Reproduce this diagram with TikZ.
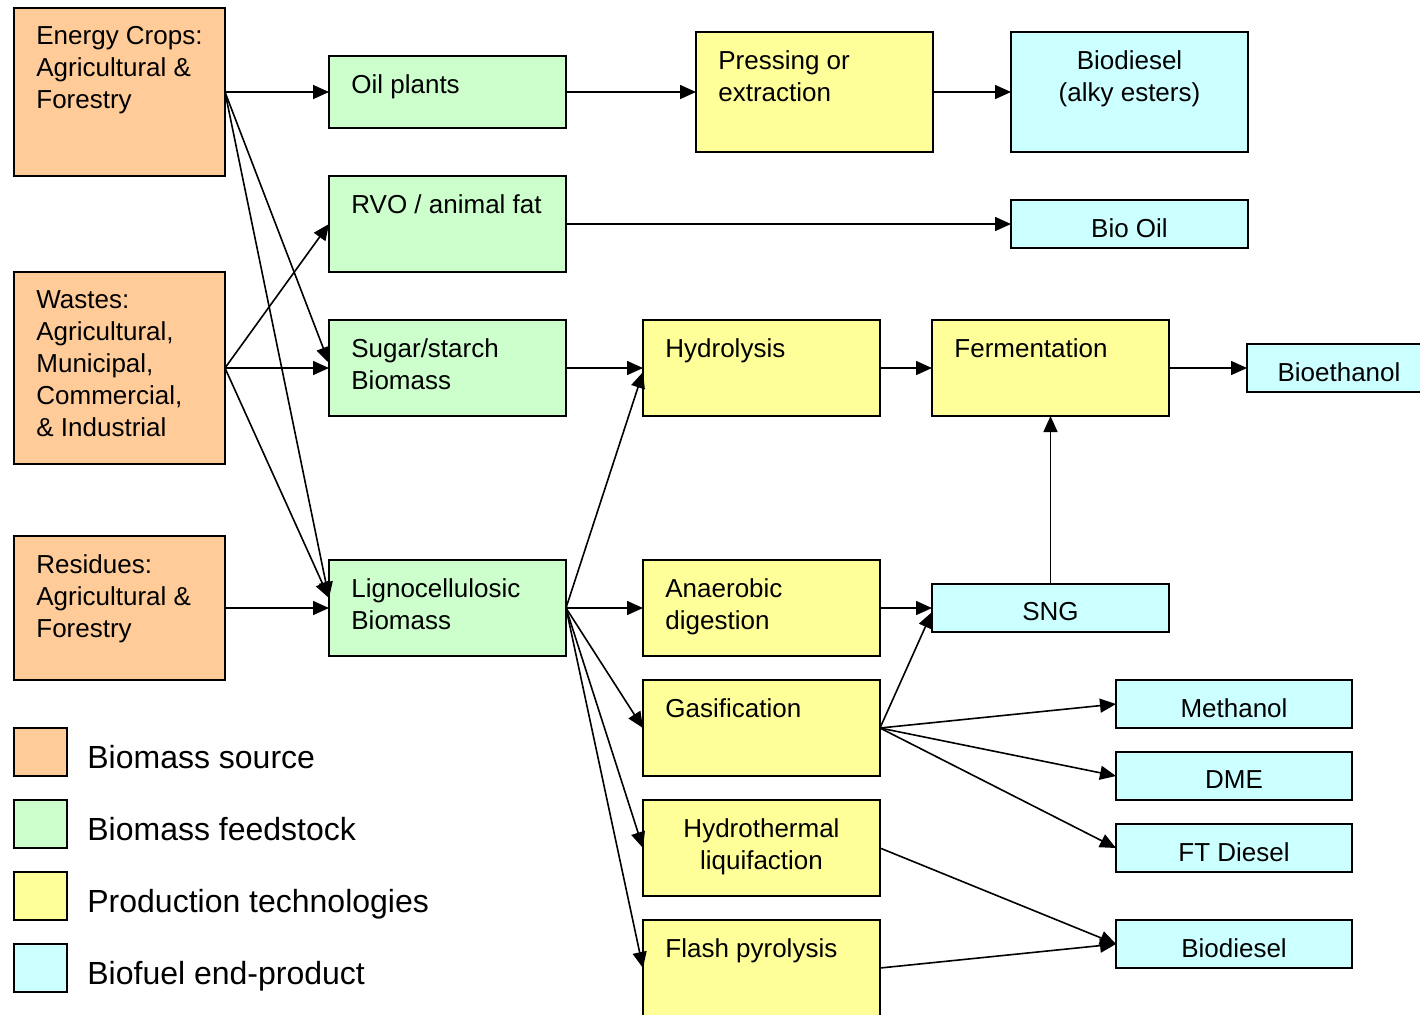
\documentclass[tikz,border=0pt]{standalone}
\usepackage{fontspec}
\setmainfont{Liberation Sans}
\usepackage{tikz}
\usetikzlibrary {arrows.meta,
                 positioning}
\definecolor{srcorange}{HTML}{FFCC99}
\definecolor{feedgreen}{HTML}{CCFFCC}
\definecolor{techyellow}{HTML}{FFFF99}
\definecolor{fuelcyan}{HTML}{CCFFFF}
\tikzset{
        box/.style={draw, rectangle, line width=1pt, inner sep=0pt,
                    outer sep=0pt, anchor=north west,
                    minimum width=118.5pt, minimum height=48pt},
        source/.style={box, fill=srcorange, minimum width=105.5pt},
        feed/.style={box, fill=feedgreen},
        tech/.style={box, fill=techyellow},
        fuel/.style={box, fill=fuelcyan, minimum height=24pt},
        txt/.style={label={[anchor=north west, align=left, inner sep=0pt,
                    xshift=11pt, yshift=-9pt]north west:{#1}}},
        ctxt/.style={label={[anchor=north, align=center, inner sep=0pt,
                    yshift=-9pt]north:{#1}}},
        keybox/.style={box, minimum width=26.5pt, minimum height=24pt},
        keytxt/.style={inner sep=0pt, anchor=base west, yshift=4pt,
                       font=\fontsize{16}{19}\selectfont},
        myarrow/.style={-{Triangle[length=8pt, width=7pt]}, line width=0.8pt},
 }

\begin{document}
\begin{tikzpicture}[x=0.5pt, y=-0.5pt,
                    every node/.style={font=\fontsize{13}{16}\selectfont}]
    \useasboundingbox (0,0) rectangle (1420,1014);

    % biomass sources
    \node[source, minimum height=84pt,
          txt={Energy Crops:\\Agricultural \&\\Forestry}] (crops) at (14,8) {};
    \node[source, minimum height=96pt, below=48pt of crops,
          txt={Wastes:\\Agricultural,\\Municipal,\\Commercial,\\\& Industrial}] (wastes) {};
    \node[source, minimum height=72pt, below=36pt of wastes,
          txt={Residues:\\Agricultural \&\\Forestry}] (residues) {};

    % feedstocks
    \node[feed, minimum height=36pt, txt={Oil plants}] (oil) at (329,56) {};
    \node[feed, below=24pt of oil, txt={RVO / animal fat}] (rvo) {};
    \node[feed, below=24pt of rvo, txt={Sugar/starch\\Biomass}] (sugar) {};
    \node[feed, below=72pt of sugar, txt={Lignocellulosic\\Biomass}] (ligno) {};

    % technologies
    \node[tech, minimum height=60pt, right=65pt of oil,
          txt={Pressing or\\extraction}] (press) {};
    \node[tech, right=38.5pt of sugar, txt={Hydrolysis}] (hydro) {};
    \node[tech, right=26pt of hydro, txt={Fermentation}] (ferm) {};
    \node[tech, right=38.5pt of ligno, txt={Anaerobic\\digestion}] (anaer) {};
    \node[tech, below=12pt of anaer, txt={Gasification}] (gasif) {};
    \node[tech, below=12pt of gasif, ctxt={Hydrothermal\\liquifaction}] (hydroth) {};
    \node[tech, below=12pt of hydroth, txt={Flash pyrolysis}] (flash) {};

    % end products
    \node[fuel, minimum height=60pt, right=39pt of press,
          ctxt={Biodiesel\\(alky esters)}] (alky) {};
    \node[fuel, below=24pt of alky, ctxt={Bio Oil}] (biooil) {};
    \node[fuel, minimum width=92pt, right=39pt of ferm, ctxt={Bioethanol}] (ethanol) {};
    \node[fuel, below=84pt of ferm, ctxt={SNG}] (sng) {};
    \node[fuel, minimum width=118pt, ctxt={Methanol}] (methanol) at (1116,680) {};
    \node[fuel, minimum width=118pt, below=12pt of methanol, ctxt={DME}] (dme) {};
    \node[fuel, minimum width=118pt, below=12pt of dme, ctxt={FT Diesel}] (ftd) {};
    \node[fuel, minimum width=118pt, below=24pt of ftd, ctxt={Biodiesel}] (biodsl) {};

    % legend
    \node[keybox, fill=srcorange] (ksrc) at (14,728) {};
    \node[keybox, fill=feedgreen, below=12pt of ksrc] (kfeed) {};
    \node[keybox, fill=techyellow, below=12pt of kfeed] (ktech) {};
    \node[keybox, fill=fuelcyan, below=12pt of ktech] (kfuel) {};
    \node[right=10pt of ksrc.south east, keytxt] (lsrc) {Biomass source};
    \node[right=10pt of kfeed.south east, keytxt] (lfeed) {Biomass feedstock};
    \node[right=10pt of ktech.south east, keytxt] (ltech) {Production technologies};
    \node[right=10pt of kfuel.south east, keytxt] (lfuel) {Biofuel end-product};

    % sources to feedstocks
    \draw[myarrow] (crops.east) -- (oil.west);
    \draw[myarrow] (crops.east) -- ([yshift=2.5pt]sugar.west);
    \draw[myarrow] (crops.east) -- ([yshift=5pt]ligno.west);
    \draw[myarrow] (wastes.east) -- (rvo.west);
    \draw[myarrow] (wastes.east) -- (sugar.west);
    \draw[myarrow] (wastes.east) -- ([yshift=5pt]ligno.west);
    \draw[myarrow] (residues.east) -- (ligno.west);

    % feedstocks to technologies
    \draw[myarrow] (oil.east) -- (press.west);
    \draw[myarrow] (press.east) -- (alky.west);
    \draw[myarrow] (rvo.east) -- (biooil.west);
    \draw[myarrow] (sugar.east) -- (hydro.west);
    \draw[myarrow] (ligno.east) -- ([yshift=-2pt]hydro.west);
    \draw[myarrow] (ligno.east) -- (anaer.west);
    \draw[myarrow] (ligno.east) -- (gasif.west);
    \draw[myarrow] (ligno.east) -- (hydroth.west);
    \draw[myarrow] (ligno.east) -- (flash.west);

    % technologies to end products
    \draw[myarrow] (hydro.east) -- (ferm.west);
    \draw[myarrow] (ferm.east) -- (ethanol.west);
    \draw[myarrow] (sng.north) -- (ferm.south);
    \draw[myarrow] (anaer.east) -- (sng.west);
    \draw[myarrow] (gasif.east) -- ([yshift=-2pt]sng.west);
    \draw[myarrow] (gasif.east) -- (methanol.west);
    \draw[myarrow] (gasif.east) -- (dme.west);
    \draw[myarrow] (gasif.east) -- (ftd.west);
    \draw[myarrow] (hydroth.east) -- (biodsl.west);
    \draw[myarrow] (flash.east) -- (biodsl.west);
\end{tikzpicture}
\end{document}
